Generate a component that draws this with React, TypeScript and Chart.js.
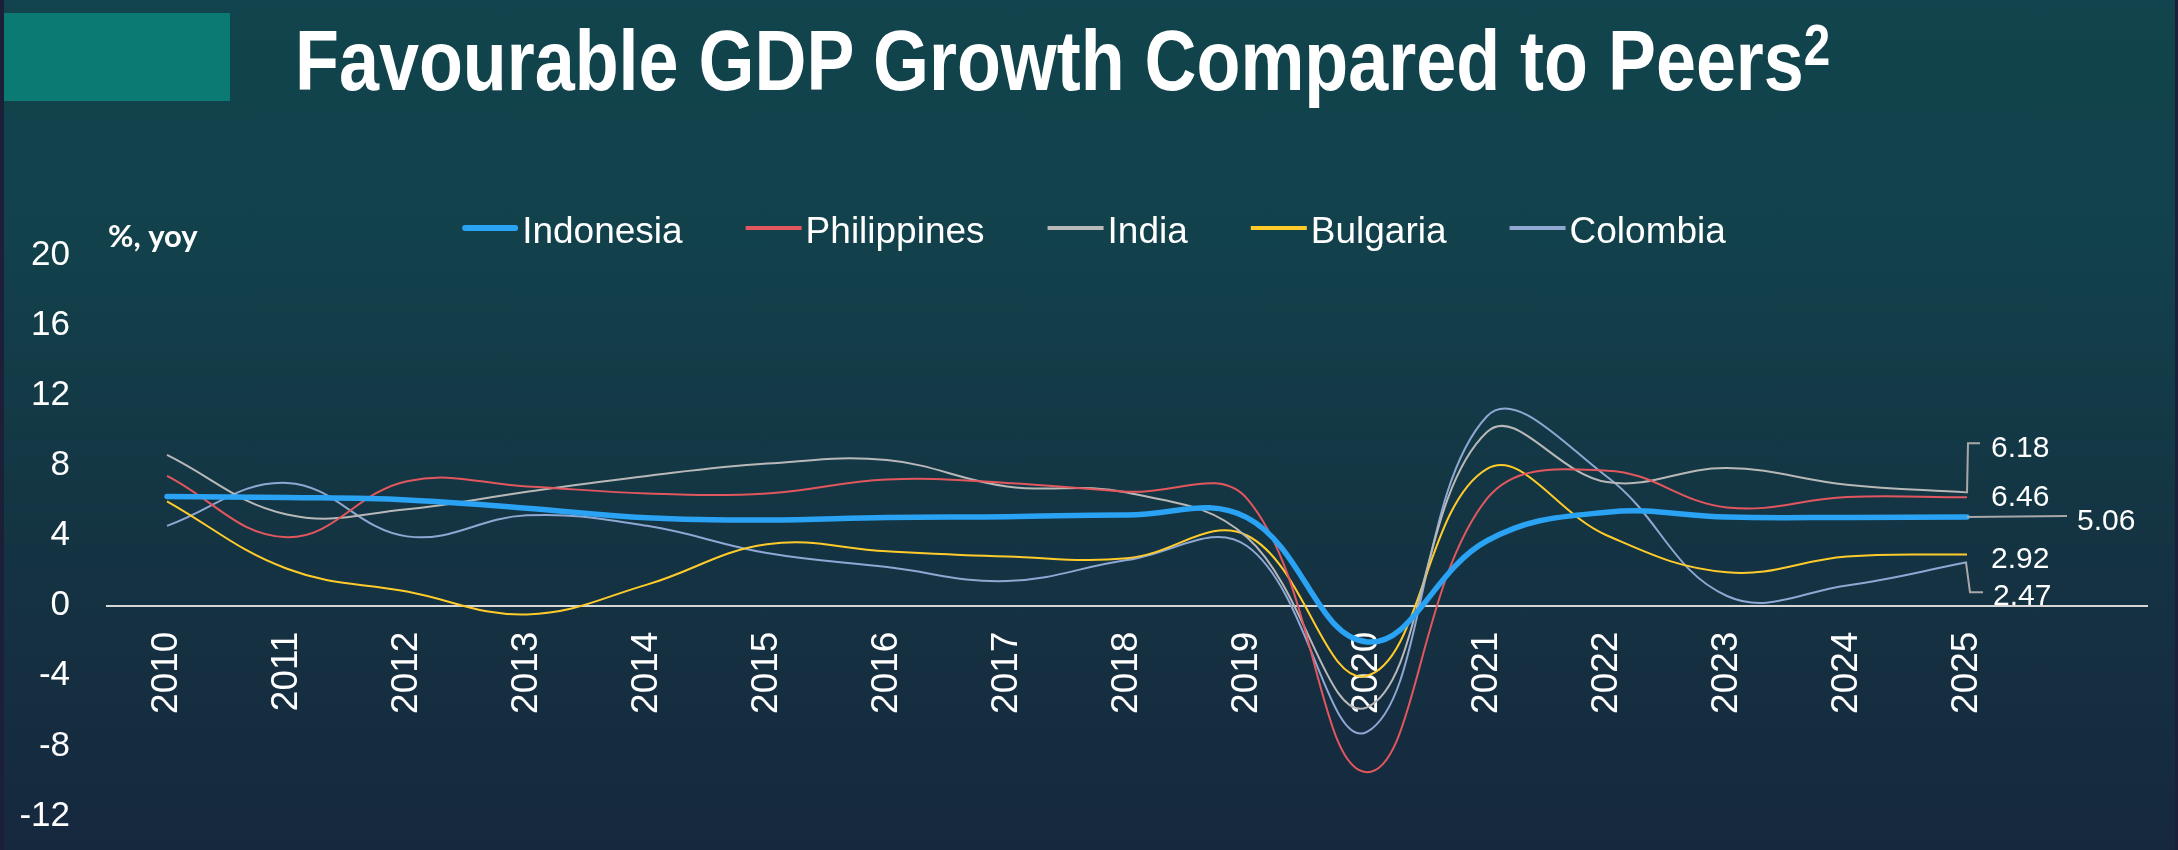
import { useEffect, useRef } from 'react';
import { Chart, registerables } from 'chart.js';

Chart.register(...registerables);

document.body.style.margin = '0';

const FONT = "'Liberation Sans', Arial, sans-serif";

const titleText = 'Favourable GDP Growth Compared to Peers';
const titleSup = '2';
const unitLabel = '%, yoy';

const years = [2010, 2011, 2012, 2013, 2014, 2015, 2016, 2017, 2018, 2019, 2020, 2021, 2022, 2023, 2024, 2025];
const seriesNames = ['Indonesia', 'Philippines', 'India', 'Bulgaria', 'Colombia'];
const indonesia = [6.22, 6.17, 6.03, 5.56, 5.01, 4.88, 5.03, 5.07, 5.17, 5.02, -2.07, 3.7, 5.33, 5.05, 5.03, 5.06];
const philippines = [7.4, 3.9, 7.1, 6.8, 6.4, 6.4, 7.2, 7.0, 6.5, 6.1, -9.5, 6.1, 7.7, 5.6, 6.2, 6.18];
const india = [8.6, 5.2, 5.5, 6.5, 7.4, 8.1, 8.3, 6.8, 6.45, 3.9, -5.8, 9.9, 7.05, 7.85, 6.9, 6.46];
const bulgaria = [5.95, 2.1, 0.8, -0.5, 1.2, 3.5, 3.1, 2.8, 2.7, 4.0, -4.0, 7.8, 4.0, 1.9, 2.8, 2.92];
const colombia = [4.55, 7.0, 3.95, 5.15, 4.55, 3.0, 2.2, 1.4, 2.6, 3.4, -7.2, 10.8, 7.35, 0.55, 1.15, 2.47];
const yMin = -12;
const yMax = 20;
const yStep = 4;

const seriesValues = [indonesia, philippines, india, bulgaria, colombia];
const seriesColors = ['#2aa3f4', '#e2575e', '#b8b8b8', '#ffcb2b', '#8ea7d3'];
const seriesWidths = [5.5, 2, 2, 2, 2];

const overlayPlugin = {
  id: 'overlay',
  afterDraw(chart: any) {
    const ctx: CanvasRenderingContext2D = chart.ctx;
    ctx.save();
    ctx.textAlign = 'left';
    ctx.textBaseline = 'alphabetic';

    // unit label
    ctx.fillStyle = '#ffffff';
    ctx.font = `bold 31px Lato, ${FONT}`;
    ctx.fillText(unitLabel, 108, 247);

    // legend
    ctx.font = `37px ${FONT}`;
    const dsets = chart.data.datasets;
    const sw = 56;
    const sg = 4;
    const ig = 63;
    const widths = dsets.map((d: any) => ctx.measureText(d.label).width);
    const total = widths.reduce((a: number, b: number) => a + b + sw + sg, 0) + ig * (dsets.length - 1);
    let x = 1094 - total / 2;
    const ly = 228;
    dsets.forEach((d: any, i: number) => {
      ctx.strokeStyle = d.borderColor;
      ctx.lineWidth = i === 0 ? 6 : 4;
      ctx.lineCap = i === 0 ? 'round' : 'butt';
      ctx.beginPath();
      ctx.moveTo(x + (i === 0 ? 3 : 0), ly);
      ctx.lineTo(x + sw - (i === 0 ? 3 : 0), ly);
      ctx.stroke();
      ctx.fillStyle = '#ffffff';
      ctx.fillText(d.label, x + sw + sg, 243);
      x += sw + sg + widths[i] + ig;
    });

    // end labels
    const ends = dsets.map((d: any, i: number) => {
      const meta = chart.getDatasetMeta(i);
      const p = meta.data[meta.data.length - 1];
      const v = d.data[d.data.length - 1].y;
      return { x: p.x, y: p.y, text: v.toFixed(2) };
    });
    ctx.strokeStyle = '#a8a8a8';
    ctx.lineWidth = 2;
    ctx.lineCap = 'butt';
    ctx.font = `30px ${FONT}`;
    ctx.fillStyle = '#ffffff';

    // Indonesia
    const e0 = ends[0];
    ctx.beginPath();
    ctx.moveTo(e0.x, e0.y);
    ctx.lineTo(e0.x + 100, e0.y - 1);
    ctx.stroke();
    ctx.fillText(e0.text, e0.x + 110, e0.y + 13);

    // Philippines
    const e1 = ends[1];
    ctx.beginPath();
    ctx.moveTo(e1.x, e1.y - 4);
    ctx.lineTo(e1.x + 1, e1.y - 54);
    ctx.lineTo(e1.x + 13, e1.y - 54);
    ctx.stroke();
    ctx.fillText(e1.text, e1.x + 24, e1.y - 40);

    // India
    const e2 = ends[2];
    ctx.fillText(e2.text, e2.x + 24, e2.y + 13.5);

    // Bulgaria
    const e3 = ends[3];
    ctx.fillText(e3.text, e3.x + 24, e3.y + 13.5);

    // Colombia
    const e4 = ends[4];
    ctx.beginPath();
    ctx.moveTo(e4.x - 1, e4.y);
    ctx.lineTo(e4.x + 3, e4.y + 30);
    ctx.lineTo(e4.x + 16, e4.y + 30);
    ctx.stroke();
    ctx.fillText(e4.text, e4.x + 26, e4.y + 43);

    ctx.restore();
  },
};

export default function App() {
  const ref = useRef<HTMLCanvasElement>(null);

  useEffect(() => {
    const canvas = ref.current;
    if (!canvas) return;
    const chart = new Chart(canvas, {
      type: 'line',
      data: {
        datasets: seriesNames.map((name, i) => ({
          label: name,
          data: years.map((yr, j) => ({ x: yr, y: seriesValues[i][j] })),
          borderColor: seriesColors[i],
          backgroundColor: seriesColors[i],
          borderWidth: seriesWidths[i],
          pointRadius: 0,
          pointHoverRadius: 0,
          tension: 0.4,
          fill: false,
          borderCapStyle: i === 0 ? 'round' : 'butt',
          borderJoinStyle: 'round',
        })),
      },
      options: {
        responsive: false,
        devicePixelRatio: 1,
        animation: false,
        events: [],
        layout: { padding: { left: 21, right: 31, top: 255, bottom: 34 } },
        plugins: {
          legend: { display: false },
          tooltip: { enabled: false },
          title: { display: false },
        },
        scales: {
          x: {
            type: 'linear',
            position: { y: 0 } as any,
            min: years[0] - 0.5,
            max: years[years.length - 1] + 1.5,
            afterBuildTicks: (s: any) => {
              s.ticks = years.map((v) => ({ value: v }));
            },
            ticks: {
              color: '#ffffff',
              font: { family: FONT, size: 37 },
              minRotation: 90,
              maxRotation: 90,
              padding: 26,
              autoSkip: false,
              callback: (v: any) => String(v),
            },
            grid: { display: true, color: 'rgba(0,0,0,0)', drawTicks: false },
            border: { display: true, color: '#d6d6d6', width: 2 },
          },
          y: {
            type: 'linear',
            min: yMin,
            max: yMax,
            afterFit: (s: any) => {
              s.width = 86;
            },
            ticks: {
              stepSize: yStep,
              color: '#ffffff',
              font: { family: FONT, size: 35 },
              padding: 37,
            },
            grid: { display: false, drawTicks: false },
            border: { display: false },
          },
        },
      },
      plugins: [overlayPlugin],
    } as any);
    return () => chart.destroy();
  }, []);

  return (
    <div style={{ position: 'relative', width: 2178, height: 850, background: '#1b2038', overflow: 'hidden' }}>
      <div
        style={{
          position: 'absolute',
          left: 4,
          top: 0,
          width: 2171,
          height: 850,
          background: 'linear-gradient(180deg, #11444c 0%, #12414b 30%, #143543 60%, #16283e 100%)',
        }}
      />
      <div style={{ position: 'absolute', left: 4, top: 13, width: 226, height: 88, background: '#0a7a72' }} />
      <div
        style={{
          position: 'absolute',
          left: 295,
          top: 17,
          fontFamily: FONT,
          fontWeight: 700,
          fontSize: 86,
          lineHeight: 1,
          color: '#ffffff',
          whiteSpace: 'nowrap',
          transform: 'scaleX(0.836)',
          transformOrigin: '0 0',
        }}
      >
        {titleText}
        <span style={{ fontSize: 57, verticalAlign: 25, lineHeight: 0 }}>{titleSup}</span>
      </div>
      <canvas ref={ref} width={2178} height={874} style={{ position: 'absolute', left: 0, top: 0 }} />
    </div>
  );
}
